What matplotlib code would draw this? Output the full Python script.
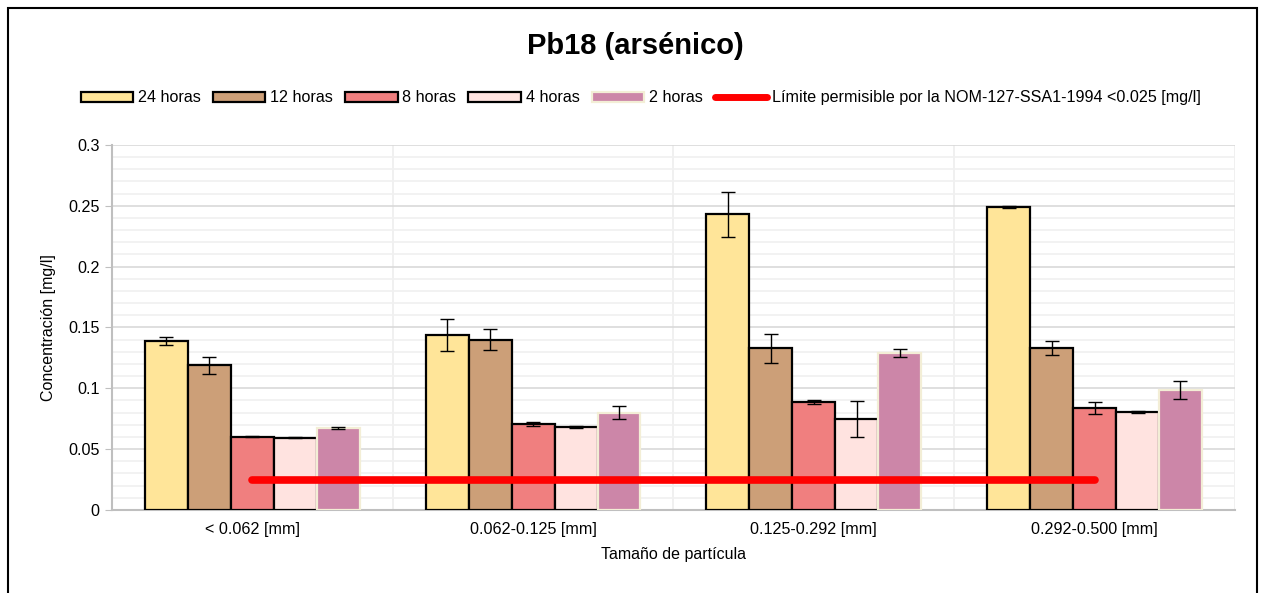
import numpy as np
import matplotlib.pyplot as plt
from matplotlib.patches import Rectangle, Patch
from matplotlib.lines import Line2D
from matplotlib.ticker import MultipleLocator

plt.rcParams['font.family'] = ['Liberation Sans', 'DejaVu Sans']

# data
categories = ["< 0.062 [mm]", "0.062-0.125 [mm]", "0.125-0.292 [mm]", "0.292-0.500 [mm]"]
series = ["24 horas", "12 horas", "8 horas", "4 horas", "2 horas"]
h24 = [0.139, 0.144, 0.243, 0.249]
h12 = [0.119, 0.140, 0.133, 0.133]
h8 = [0.060, 0.0707, 0.0888, 0.0838]
h4 = [0.0592, 0.068, 0.0748, 0.0805]
h2 = [0.0674, 0.080, 0.129, 0.0986]
err24 = [0.0035, 0.013, 0.0185, 0.0005]
err12 = [0.007, 0.0085, 0.012, 0.0055]
err8 = [0.0004, 0.0015, 0.0015, 0.005]
err4 = [0.0004, 0.001, 0.0145, 0.0005]
err2 = [0.0006, 0.0055, 0.0035, 0.0075]
limite = [0.025, 0.025, 0.025, 0.025]
limite_label = "Límite permisible por la NOM-127-SSA1-1994 <0.025 [mg/l]"

values = [h24, h12, h8, h4, h2]
errors = [err24, err12, err8, err4, err2]
colors = ["#FFE599", "#CC9F78", "#F07F7F", "#FFE3E0", "#CC86A8"]
edges = ["black", "black", "black", "black", "#F3EED6"]

fig = plt.figure(figsize=(12.64, 5.93), dpi=100)
ax = fig.add_axes([0.0886, 0.140, 0.8884, 0.6155])

x = np.arange(len(categories))
w = 0.153
for i in range(len(series)):
    ax.bar(x + (i - 2) * w, values[i], w, color=colors[i], edgecolor=edges[i],
           linewidth=1.6, zorder=3)
    ax.errorbar(x + (i - 2) * w, values[i], yerr=errors[i], fmt='none',
                ecolor='black', elinewidth=1, capsize=5, capthick=1, zorder=4)

ax.plot(x, limite, color='#FF0000', lw=5.5, solid_capstyle='round', zorder=5)

ax.set_xlim(-0.5, 3.5)
ax.set_ylim(0, 0.3)
ax.yaxis.set_major_locator(MultipleLocator(0.05))
ax.yaxis.set_minor_locator(MultipleLocator(0.01))
ax.set_yticks([0, 0.05, 0.1, 0.15, 0.2, 0.25, 0.3])
ax.set_yticklabels(["0", "0.05", "0.1", "0.15", "0.2", "0.25", "0.3"])
ax.set_xticks(x)
ax.set_xticklabels(categories)
ax.tick_params(axis='x', length=0, labelsize=11.6, pad=9)
ax.tick_params(axis='y', which='major', length=5, color='#BFBFBF', labelsize=11.6, pad=4)
ax.tick_params(axis='y', which='minor', length=0)

ax.grid(axis='y', which='major', color='#D9D9D9', lw=1.2, zorder=0)
ax.grid(axis='y', which='minor', color='#F0F0F0', lw=1.2, zorder=0)
for b in np.arange(-0.5, 4.0, 1.0):
    ax.axvline(b, color='#EDEDED', lw=1.2, zorder=0)

for s in ['top', 'right']:
    ax.spines[s].set_visible(False)
for s in ['left', 'bottom']:
    ax.spines[s].set_color('#BFBFBF')
    ax.spines[s].set_linewidth(1.5)

ax.set_ylabel("Concentración [mg/l]", fontsize=11.5, labelpad=9)
ax.set_xlabel("Tamaño de partícula", fontsize=11.5, labelpad=7)

fig.text(0.503, 0.923, "Pb18 (arsénico)", ha='center', va='center',
         fontsize=21, fontweight='bold')

handles = [Patch(facecolor=colors[i], edgecolor=edges[i], linewidth=1.6) for i in range(5)]
handles.append(Line2D([0], [0], color='#FF0000', lw=5, solid_capstyle='round'))
labels = series + [limite_label]
fig.legend(handles, labels, loc='center', bbox_to_anchor=(0.507, 0.835), ncol=6,
           frameon=False, fontsize=11.6, handlelength=3.25, handleheight=0.6,
           handletextpad=0.3, columnspacing=0.75)

fig.add_artist(Rectangle((8 / 1264, -0.1), 1249 / 1264, 1.1 - 8 / 593,
                         transform=fig.transFigure, fill=False,
                         edgecolor='black', lw=1.5))

fig.savefig("out.png", dpi=100)
